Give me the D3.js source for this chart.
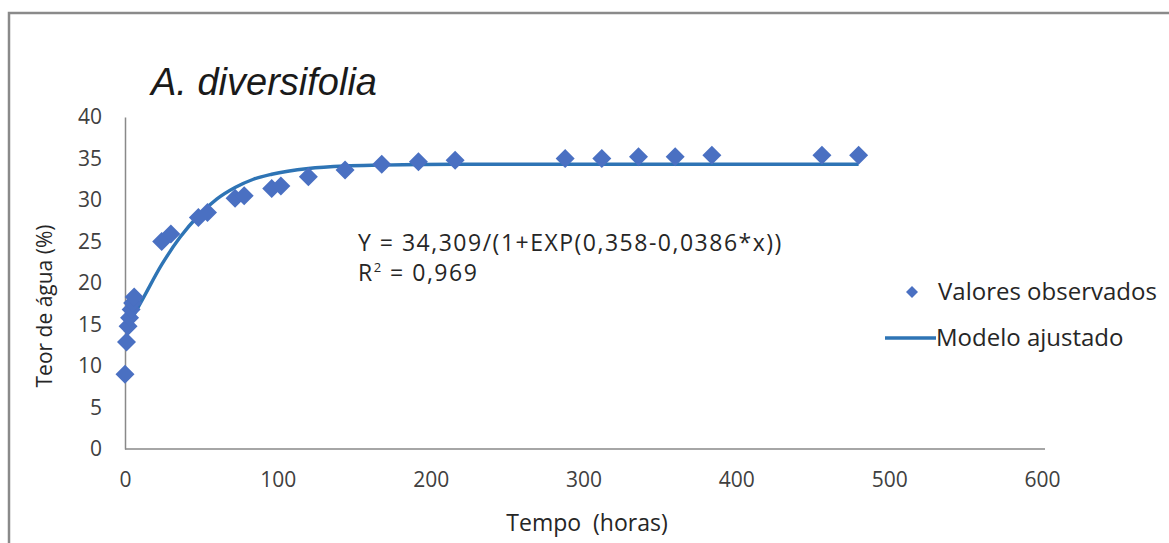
<!DOCTYPE html>
<html>
<head>
    <title>A. diversifolia - Teor de água</title>
    <script src="https://d3js.org/d3.v7.min.js"></script>
    <style>
        body { margin: 0; background: #fff; }
        .axis text { font-family: "Open Sans", sans-serif; font-size: 21px; fill: #404040; }
        .axis path { stroke: #898989; stroke-width: 1.5; }
        .label { font-family: "Open Sans", sans-serif; fill: #262626; }
        .title { font-family: "Liberation Sans", Arial, sans-serif; font-size: 38px; font-style: italic; fill: #1a1a1a; }
    </style>
</head>
<body>
    <svg width="1169" height="543"></svg>
    <script>
        // observed points (hours, % water)
        var hours = [0, 1, 2, 3, 4, 5, 6, 24, 30, 48, 54, 72, 78, 96, 102, 120, 144, 168, 192, 216, 288, 312, 336, 360, 384, 456, 480];
        var observed = [9.0, 12.9, 14.8, 15.8, 16.8, 17.6, 18.3, 25.0, 25.9, 27.9, 28.5, 30.2, 30.5, 31.4, 31.7, 32.8, 33.6, 34.3, 34.6, 34.8, 35.0, 35.0, 35.2, 35.2, 35.4, 35.4, 35.4];

        // fitted curve
        var modelHours = [0, 6, 12, 24, 36, 48, 60, 72, 84, 96, 120, 144, 168, 216, 300, 400, 480];
        var modelValues = [14.1, 16.2, 18.2, 22.2, 25.5, 28.1, 30.1, 31.5, 32.5, 33.1, 33.8, 34.1, 34.2, 34.3, 34.3, 34.3, 34.3];

        var xTicks = [0, 100, 200, 300, 400, 500, 600];
        var yTicks = [0, 5, 10, 15, 20, 25, 30, 35, 40];

        var svg = d3.select("svg");

        // outer frame (top and left edges visible)
        svg.append("path")
            .attr("d", "M9,543 V13 H1169")
            .attr("fill", "none")
            .attr("stroke", "#8a8a8a")
            .attr("stroke-width", 2.5);

        var x = d3.scaleLinear().domain([0, 600]).range([125, 1042]);
        var y = d3.scaleLinear().domain([0, 40]).range([449, 117]);

        svg.append("g")
            .attr("class", "axis")
            .attr("transform", "translate(0,449)")
            .call(d3.axisBottom(x).tickValues(xTicks).tickSize(0).tickPadding(23).tickFormat(d3.format("d")))
            .call(g => g.select(".domain").attr("d", "M125,0H1045"));

        svg.append("g")
            .attr("class", "axis")
            .attr("transform", "translate(125,0)")
            .call(d3.axisLeft(y).tickValues(yTicks).tickSize(0).tickPadding(23).tickFormat(d3.format("d")));

        svg.selectAll(".axis text").attr("font-family", null).attr("font-size", null);

        // model curve
        var line = d3.line()
            .x((d, i) => x(modelHours[i]))
            .y(d => y(d))
            .curve(d3.curveMonotoneX);

        svg.append("path")
            .datum(modelValues)
            .attr("d", line)
            .attr("fill", "none")
            .attr("stroke", "#2e74b5")
            .attr("stroke-width", 3.4);

        // observed points as diamonds
        var diamond = r => `M0,${-r}L${r},0L0,${r}L${-r},0Z`;

        svg.append("g")
            .selectAll("path")
            .data(observed)
            .enter().append("path")
            .attr("transform", (d, i) => `translate(${x(hours[i])},${y(d)})`)
            .attr("d", diamond(9.5))
            .attr("fill", "#4a70c2");

        // title
        svg.append("text")
            .attr("class", "title")
            .attr("x", 151)
            .attr("y", 95)
            .text("A. diversifolia");

        // equation
        svg.append("text")
            .attr("class", "label")
            .attr("font-size", 23)
            .attr("letter-spacing", 1.5)
            .attr("x", 358)
            .attr("y", 251)
            .text("Y = 34,309/(1+EXP(0,358-0,0386*x))");

        var r2 = svg.append("text")
            .attr("class", "label")
            .attr("font-size", 23)
            .attr("letter-spacing", 1.5)
            .attr("x", 358)
            .attr("y", 281);
        r2.append("tspan").text("R");
        r2.append("tspan").attr("dy", -9).attr("font-size", 13).text("2");
        r2.append("tspan").attr("dy", 9).text(" = 0,969");

        // axis titles
        svg.append("text")
            .attr("class", "label")
            .attr("font-size", 23)
            .attr("x", 587)
            .attr("y", 531)
            .attr("text-anchor", "middle")
            .text("Tempo  (horas)")
            .style("white-space", "pre");

        svg.append("text")
            .attr("class", "label")
            .attr("font-size", 21)
            .attr("transform", "translate(52,306) rotate(-90)")
            .attr("text-anchor", "middle")
            .text("Teor de água (%)");

        // legend
        var legend = svg.append("g");
        legend.append("path")
            .attr("transform", "translate(912,292)")
            .attr("d", diamond(6))
            .attr("fill", "#4a70c2");
        legend.append("text")
            .attr("class", "label")
            .attr("font-size", 24)
            .attr("x", 938)
            .attr("y", 300)
            .text("Valores observados");
        legend.append("line")
            .attr("x1", 885).attr("x2", 936)
            .attr("y1", 338).attr("y2", 338)
            .attr("stroke", "#2e74b5")
            .attr("stroke-width", 3.4);
        legend.append("text")
            .attr("class", "label")
            .attr("font-size", 24)
            .attr("x", 936)
            .attr("y", 346)
            .text("Modelo ajustado");
    </script>
</body>
</html>
